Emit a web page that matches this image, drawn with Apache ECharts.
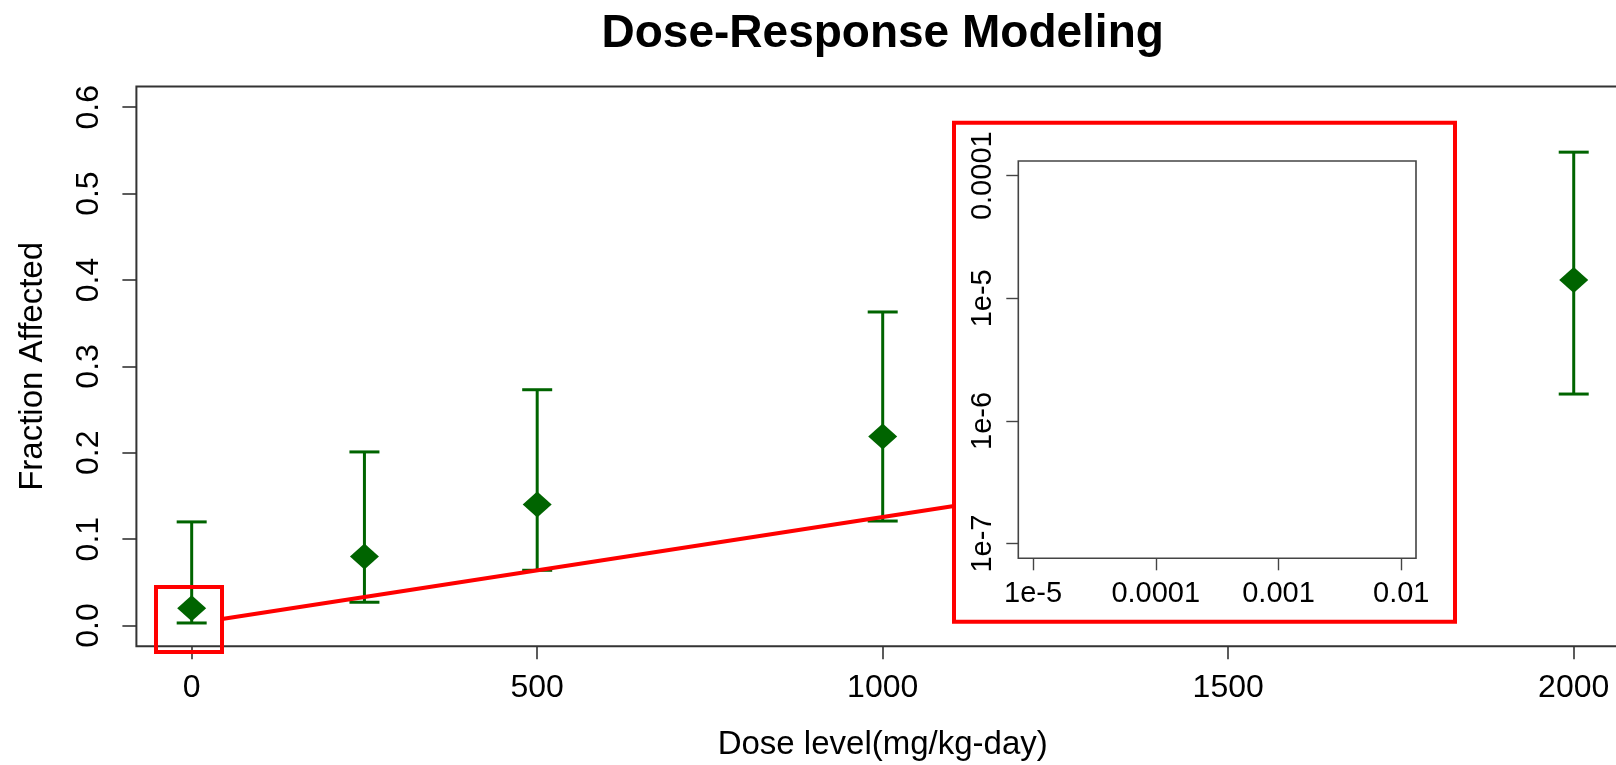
<!DOCTYPE html>
<html>
<head>
<meta charset="utf-8">
<title>Dose-Response Modeling</title>
<script src="https://cdn.jsdelivr.net/npm/echarts@6/dist/echarts.min.js"></script>
<style>
  html, body { margin: 0; padding: 0; background: #ffffff; }
  #chart { width: 1616px; height: 765px; }
</style>
</head>
<body>
<div id="chart"></div>
<script>
// Observed dose groups and their response fractions with confidence limits
const doses = [0, 250, 500, 1000, 2000];
const fractions = [0.020, 0.080, 0.140, 0.219, 0.400];
const lowerCI = [0.003, 0.027, 0.064, 0.121, 0.268];
const upperCI = [0.120, 0.201, 0.273, 0.363, 0.548];

// Main axis ticks
const doseTicks = [0, 500, 1000, 1500, 2000];
const fractionTicks = [0, 0.1, 0.2, 0.3, 0.4, 0.5, 0.6];

// Low-dose inset: decades (log10) and their printed labels
const insetDoseExp = [-5, -4, -3, -2];
const insetDoseLabels = ['1e-5', '0.0001', '0.001', '0.01'];
const insetRespExp = [-7, -6, -5, -4];
const insetRespLabels = ['1e-7', '1e-6', '1e-5', '0.0001'];

const FONT = '"Liberation Sans", Arial, Helvetica, sans-serif';
const GREEN = '#006400';
const AXIS = '#333333';
const RED = '#ff0000';

const pointData = doses.map((d, i) => [d, fractions[i]]);
const barData = doses.map((d, i) => [d, lowerCI[i], upperCI[i]]);

function labelFor(values, labels) {
  return v => {
    const i = values.findIndex(t => Math.abs(t - v) < 1e-9);
    return i >= 0 ? labels[i] : '';
  };
}

const chart = echarts.init(document.getElementById('chart'), null, { renderer: 'canvas' });

chart.setOption({
  animation: false,
  backgroundColor: '#ffffff',
  textStyle: { fontFamily: FONT },
  title: {
    text: 'Dose-Response Modeling',
    left: 882.7,
    top: 11,
    padding: 0,
    textAlign: 'center',
    textStyle: { fontFamily: FONT, fontWeight: 'bold', fontSize: 46, color: '#000' }
  },
  grid: [
    {
      // plot region runs past the right edge of the canvas
      left: 136.4, top: 86.5, width: 1492.6, height: 559.8,
      outerBoundsMode: 'none', containLabel: false,
      show: true, borderColor: AXIS, borderWidth: 2, backgroundColor: 'transparent'
    },
    {
      left: 1018.3, top: 161, width: 397.7, height: 397.3,
      outerBoundsMode: 'none', containLabel: false,
      show: true, borderColor: '#444', borderWidth: 1.6, backgroundColor: '#ffffff',
      zlevel: 2
    }
  ],
  xAxis: [
    {
      type: 'value', gridIndex: 0, min: -80, max: 2080,
      name: 'Dose level(mg/kg-day)', nameLocation: 'middle', nameGap: 82,
      nameTextStyle: { fontFamily: FONT, fontSize: 33, color: '#000' },
      axisLine: { show: false, onZero: false },
      axisTick: { show: true, inside: false, length: 13, customValues: doseTicks,
                  lineStyle: { color: AXIS, width: 1.6 } },
      axisLabel: { customValues: doseTicks, margin: 26, fontSize: 32, color: '#000',
                   fontFamily: FONT, formatter: v => String(v) },
      splitLine: { show: false }
    },
    {
      type: 'value', gridIndex: 1, min: -5.12, max: -1.88, zlevel: 2,
      axisLine: { show: false, onZero: false },
      axisTick: { show: true, inside: false, length: 12, customValues: insetDoseExp,
                  lineStyle: { color: '#444', width: 1.4 } },
      axisLabel: { customValues: insetDoseExp, margin: 21, fontSize: 29, color: '#000',
                   fontFamily: FONT, formatter: labelFor(insetDoseExp, insetDoseLabels) },
      splitLine: { show: false }
    }
  ],
  yAxis: [
    {
      type: 'value', gridIndex: 0, min: -0.024, max: 0.624,
      name: 'Fraction Affected', nameLocation: 'middle', nameGap: 87, nameRotate: 90,
      nameTextStyle: { fontFamily: FONT, fontSize: 33, color: '#000' },
      axisLine: { show: false, onZero: false },
      axisTick: { show: true, inside: false, length: 14, customValues: fractionTicks,
                  lineStyle: { color: AXIS, width: 1.6 } },
      axisLabel: { customValues: fractionTicks, margin: 31, rotate: 90, fontSize: 32,
                   color: '#000', fontFamily: FONT, formatter: v => v.toFixed(1) },
      splitLine: { show: false }
    },
    {
      type: 'value', gridIndex: 1, min: -7.12, max: -3.88, zlevel: 2,
      axisLine: { show: false, onZero: false },
      axisTick: { show: true, inside: false, length: 12, customValues: insetRespExp,
                  lineStyle: { color: '#444', width: 1.4 } },
      axisLabel: { customValues: insetRespExp, margin: 21, rotate: 90, fontSize: 29,
                   color: '#000', fontFamily: FONT,
                   formatter: labelFor(insetRespExp, insetRespLabels) },
      splitLine: { show: false }
    }
  ],
  series: [
    {
      // confidence interval whiskers with end caps
      type: 'custom',
      name: 'CI',
      xAxisIndex: 0, yAxisIndex: 0,
      data: barData,
      z: 2,
      renderItem: (params, api) => {
        const x = api.value(0);
        const lo = api.coord([x, api.value(1)]);
        const hi = api.coord([x, api.value(2)]);
        const hw = 15;
        const style = { stroke: GREEN, lineWidth: 3, fill: null };
        return {
          type: 'group',
          children: [
            { type: 'line', shape: { x1: lo[0], y1: lo[1], x2: hi[0], y2: hi[1] }, style },
            { type: 'line', shape: { x1: lo[0] - hw, y1: lo[1], x2: lo[0] + hw, y2: lo[1] }, style },
            { type: 'line', shape: { x1: hi[0] - hw, y1: hi[1], x2: hi[0] + hw, y2: hi[1] }, style }
          ]
        };
      }
    },
    {
      type: 'scatter',
      name: 'Observed',
      xAxisIndex: 0, yAxisIndex: 0,
      data: pointData,
      symbol: 'diamond',
      symbolSize: [29, 26],
      itemStyle: { color: GREEN, opacity: 1 },
      z: 3
    }
  ],
  graphic: {
    elements: [
      // highlight around the low-dose region
      {
        type: 'rect', zlevel: 1, z: 10,
        shape: { x: 156, y: 587, width: 66, height: 65 },
        style: { stroke: RED, lineWidth: 4, fill: null }
      },
      // connector to the magnified view
      {
        type: 'line', zlevel: 1, z: 10,
        shape: { x1: 222, y1: 619, x2: 954, y2: 506 },
        style: { stroke: RED, lineWidth: 4 }
      },
      // frame of the magnified low-dose view
      {
        type: 'rect', zlevel: 1, z: 10,
        shape: { x: 954, y: 122.7, width: 501, height: 499 },
        style: { stroke: RED, lineWidth: 4, fill: '#ffffff' }
      }
    ]
  }
});
</script>
</body>
</html>
